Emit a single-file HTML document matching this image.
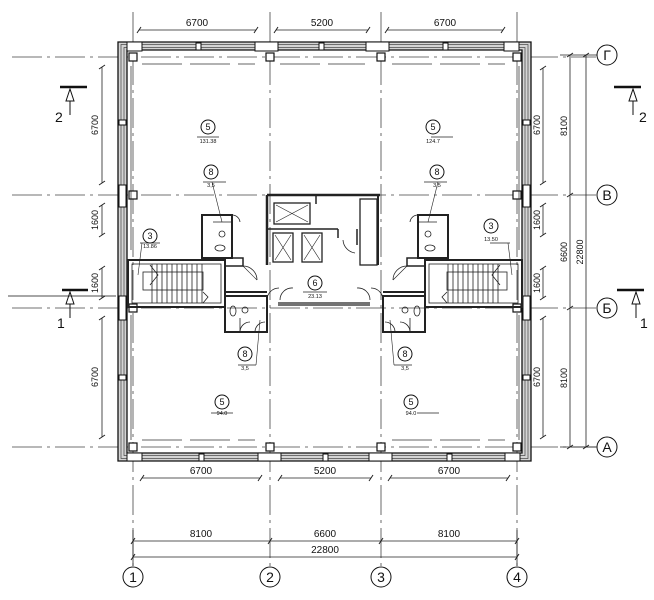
<!DOCTYPE html>
<html><head><meta charset="utf-8"><style>
html,body{margin:0;padding:0;background:#fff;}
svg{display:block;font-family:"Liberation Sans",Arial,sans-serif;}
</style></head><body>
<svg width="654" height="600" viewBox="0 0 654 600" xmlns="http://www.w3.org/2000/svg">
<defs>
<g id="half" fill="none" stroke="#222">
  <rect x="128" y="260" width="97" height="47" stroke-width="2"/>
  <rect x="132" y="264" width="89" height="39" stroke-width="0.8"/>
  <rect x="143" y="272" width="60" height="18" stroke-width="0.8"/>
  <g stroke-width="0.8">
    <line x1="152" y1="264" x2="152" y2="303"/><line x1="157" y1="264" x2="157" y2="303"/>
    <line x1="162" y1="264" x2="162" y2="303"/><line x1="167" y1="264" x2="167" y2="303"/>
    <line x1="172" y1="264" x2="172" y2="303"/><line x1="177" y1="264" x2="177" y2="303"/>
    <line x1="182" y1="264" x2="182" y2="303"/><line x1="187" y1="264" x2="187" y2="303"/>
    <line x1="192" y1="264" x2="192" y2="303"/><line x1="197" y1="264" x2="197" y2="303"/>
    <line x1="202" y1="264" x2="202" y2="303"/>
    <path d="M150 265 L158 275 L150 285"/>
    <path d="M203 292 L208 297 L203 303"/>
  </g>
  <rect x="202" y="215" width="30" height="43" stroke-width="2"/>
  <line x1="213" y1="222" x2="232" y2="222" stroke-width="0.8"/>
  <circle cx="222" cy="234" r="3" stroke-width="0.8"/>
  <ellipse cx="220" cy="248" rx="5" ry="3" stroke-width="0.8"/>
  <path d="M232 215 A8 8 0 0 1 240 222" stroke-width="0.8"/>
  <rect x="225" y="258" width="18" height="8" stroke-width="1.5"/>
  <line x1="225" y1="292" x2="267" y2="292" stroke-width="2"/>
  <path d="M243 266 A14 14 0 0 1 257 280" stroke-width="0.8"/>
  <line x1="243" y1="266" x2="257" y2="280" stroke-width="0.6"/>
  <rect x="225" y="296" width="42" height="36" stroke-width="2"/>
  <ellipse cx="233" cy="311" rx="3" ry="5" stroke-width="0.8"/>
  <circle cx="245" cy="310" r="3" stroke-width="0.8"/>
  <line x1="240" y1="318" x2="240" y2="332" stroke-width="0.8"/>
  <path d="M255 332 A10 10 0 0 1 265 322" stroke-width="0.8"/>
  <path d="M240 332 A10 10 0 0 1 250 322" stroke-width="0.8"/>
  <path d="M267 300 A12 12 0 0 1 279 288" stroke-width="0.8"/>
  <line x1="131" y1="66" x2="131" y2="250" stroke-width="0.7"/>
  <line x1="131" y1="315" x2="131" y2="440" stroke-width="0.7"/>
  <line x1="203" y1="182" x2="226" y2="182" stroke-width="0.8"/>
  <line x1="212" y1="182" x2="222" y2="222" stroke-width="0.6"/>
  <line x1="140" y1="243" x2="160" y2="243" stroke-width="0.8"/>
  <line x1="142" y1="243" x2="138" y2="275" stroke-width="0.6"/>
  <line x1="238" y1="365" x2="256" y2="365" stroke-width="0.8"/>
  <line x1="256" y1="365" x2="260" y2="320" stroke-width="0.6"/>
  <line x1="197" y1="137" x2="219" y2="137" stroke-width="0.8"/>
  <line x1="211" y1="413" x2="233" y2="413" stroke-width="0.8"/>
</g>
</defs>

<g stroke="#444" stroke-width="0.8" stroke-dasharray="30,5,3,5" fill="none">
  <line x1="12" y1="57" x2="596" y2="57"/>
  <line x1="12" y1="195" x2="596" y2="195"/>
  <line x1="12" y1="308" x2="596" y2="308"/>
  <line x1="12" y1="447" x2="596" y2="447"/>
  <line x1="133" y1="12" x2="133" y2="566"/>
  <line x1="270" y1="12" x2="270" y2="566"/>
  <line x1="381" y1="12" x2="381" y2="566"/>
  <line x1="517" y1="12" x2="517" y2="566"/>
</g>

<path d="M118 42 H531 V461 H118 Z M127 50 V453 H522 V50 Z" fill="#d4d4d4" fill-rule="evenodd" stroke="#111" stroke-width="1.3"/>
<rect x="121" y="44.5" width="407" height="414" fill="none" stroke="#444" stroke-width="0.7"/>
<rect x="124" y="47.5" width="401" height="408" fill="none" stroke="#444" stroke-width="0.7"/>
<g fill="#fff" stroke="#111" stroke-width="1">
  <rect x="127" y="42" width="15" height="9"/><rect x="255" y="42" width="23" height="9"/>
  <rect x="366" y="42" width="23" height="9"/><rect x="504" y="42" width="15" height="9"/>
  <rect x="196" y="43" width="5" height="7"/><rect x="319" y="43" width="5" height="7"/><rect x="443" y="43" width="5" height="7"/>
  <rect x="127" y="453" width="15" height="8"/><rect x="258" y="453" width="23" height="8"/>
  <rect x="369" y="453" width="23" height="8"/><rect x="505" y="453" width="15" height="8"/>
  <rect x="199" y="454" width="5" height="7"/><rect x="323" y="454" width="5" height="7"/><rect x="447" y="454" width="5" height="7"/>
  <rect x="119" y="120" width="7" height="5"/><rect x="523" y="120" width="7" height="5"/>
  <rect x="119" y="375" width="7" height="5"/><rect x="523" y="375" width="7" height="5"/>
  <rect x="119" y="185" width="7" height="22"/><rect x="523" y="185" width="7" height="22"/>
  <rect x="119" y="296" width="7" height="24"/><rect x="523" y="296" width="7" height="24"/>
</g>
<g stroke="#333" stroke-width="0.7" fill="none">
  <line x1="142" y1="64" x2="255" y2="64" stroke-dasharray="40,8"/>
  <line x1="280" y1="64" x2="365" y2="64" stroke-dasharray="40,8"/>
  <line x1="392" y1="64" x2="505" y2="64" stroke-dasharray="40,8"/>
  <line x1="142" y1="440" x2="255" y2="440" stroke-dasharray="40,8"/>
  <line x1="392" y1="440" x2="505" y2="440" stroke-dasharray="40,8"/>
</g>

<g fill="#fff" stroke="#111" stroke-width="1.2">
  <rect x="129" y="53" width="8" height="8"/><rect x="266" y="53" width="8" height="8"/>
  <rect x="377" y="53" width="8" height="8"/><rect x="513" y="53" width="8" height="8"/>
  <rect x="129" y="191" width="8" height="8"/><rect x="513" y="191" width="8" height="8"/>
  <rect x="129" y="304" width="8" height="8"/><rect x="513" y="304" width="8" height="8"/>
  <rect x="129" y="443" width="8" height="8"/><rect x="266" y="443" width="8" height="8"/>
  <rect x="377" y="443" width="8" height="8"/><rect x="513" y="443" width="8" height="8"/>
</g>

<use href="#half"/>
<use href="#half" transform="translate(650,0) scale(-1,1)"/>

<g fill="none" stroke="#222">
  <line x1="267" y1="195" x2="267" y2="265" stroke-width="2.5"/>
  <line x1="267" y1="195" x2="380" y2="195" stroke-width="2.5"/>
  <line x1="378" y1="195" x2="378" y2="265" stroke-width="2"/>
  <rect x="360" y="199" width="17" height="66" stroke-width="1.3"/>
  <rect x="274" y="203" width="36" height="21" stroke-width="1.3"/>
  <path d="M276 205 L308 222 M308 205 L276 222" stroke-width="0.6"/>
  <line x1="267" y1="229" x2="338" y2="229" stroke-width="1.5"/>
  <line x1="316" y1="195" x2="316" y2="204" stroke-width="1.5"/>
  <rect x="273" y="233" width="20" height="29" stroke-width="1.3"/>
  <rect x="302" y="233" width="20" height="29" stroke-width="1.3"/>
  <path d="M275 235 L291 260 M291 235 L275 260 M304 235 L320 260 M320 235 L304 260" stroke-width="0.6"/>
  <line x1="338" y1="229" x2="338" y2="238" stroke-width="1.5"/>
  <path d="M343 240 A14 14 0 0 0 355 253" stroke-width="0.8"/>
  <line x1="357" y1="229" x2="357" y2="245" stroke-width="1.5"/>
  <line x1="278" y1="303" x2="370" y2="303" stroke-width="1.2"/>
  <line x1="278" y1="305" x2="370" y2="305" stroke-width="1.2"/>
  <path d="M280 300 A12 12 0 0 1 293 288" stroke-width="0.8"/>
  <path d="M370 300 A12 12 0 0 0 357 288" stroke-width="0.8"/>
  <line x1="303" y1="292" x2="327" y2="292" stroke-width="0.8"/>
</g>

<g fill="#fff" stroke="#111" stroke-width="1">
  <circle cx="208" cy="127" r="7"/><circle cx="433" cy="127" r="7"/>
  <circle cx="211" cy="172" r="7"/><circle cx="437" cy="172" r="7"/>
  <circle cx="150" cy="236" r="7"/><circle cx="491" cy="226" r="7"/>
  <circle cx="315" cy="283" r="7"/>
  <circle cx="245" cy="354" r="7"/><circle cx="405" cy="354" r="7"/>
  <circle cx="222" cy="402" r="7"/><circle cx="411" cy="402" r="7"/>
</g>
<g font-size="9" text-anchor="middle" fill="#111">
  <text x="208" y="130">5</text><text x="433" y="130">5</text>
  <text x="211" y="175">8</text><text x="437" y="175">8</text>
  <text x="150" y="239">3</text><text x="491" y="229">3</text>
  <text x="315" y="286">6</text>
  <text x="245" y="357">8</text><text x="405" y="357">8</text>
  <text x="222" y="405">5</text><text x="411" y="405">5</text>
</g>
<g font-size="5.5" text-anchor="middle" fill="#111">
  <text x="208" y="143">131.38</text><text x="433" y="143">124.7</text>
  <text x="211" y="187">3,5</text><text x="437" y="187">3,5</text>
  <text x="150" y="248">13.86</text><text x="491" y="241">13.50</text>
  <text x="315" y="298">23.13</text>
  <text x="245" y="370">3,5</text><text x="405" y="370">3,5</text>
  <text x="222" y="415">94.0</text><text x="411" y="415">94.0</text>
</g>

<g stroke="#222" stroke-width="0.8" fill="none">
  <line x1="139" y1="30" x2="256" y2="30"/><line x1="276" y1="30" x2="368" y2="30"/><line x1="387" y1="30" x2="503" y2="30"/>
  <line x1="142" y1="478" x2="260" y2="478"/><line x1="280" y1="478" x2="371" y2="478"/><line x1="390" y1="478" x2="508" y2="478"/>
  <line x1="133" y1="541" x2="517" y2="541"/><line x1="133" y1="557" x2="517" y2="557"/>
  <line x1="102" y1="67" x2="102" y2="183"/><line x1="102" y1="205" x2="102" y2="235"/>
  <line x1="102" y1="268" x2="102" y2="298"/><line x1="102" y1="318" x2="102" y2="437"/>
  <line x1="543" y1="68" x2="543" y2="183"/><line x1="543" y1="205" x2="543" y2="235"/>
  <line x1="543" y1="268" x2="543" y2="298"/><line x1="543" y1="318" x2="543" y2="437"/>
  <line x1="570" y1="55" x2="570" y2="447"/><line x1="586" y1="55" x2="586" y2="447"/>
  <line x1="560" y1="55" x2="597" y2="55"/><line x1="560" y1="447" x2="597" y2="447"/>
  <line x1="133" y1="530" x2="133" y2="566"/><line x1="517" y1="530" x2="517" y2="566"/>
</g>
<g stroke="#222" stroke-width="1">
  <path d="M137 33 l4 -6 M254 33 l4 -6 M274 33 l4 -6 M366 33 l4 -6 M385 33 l4 -6 M501 33 l4 -6"/>
  <path d="M140 481 l4 -6 M258 481 l4 -6 M278 481 l4 -6 M369 481 l4 -6 M388 481 l4 -6 M506 481 l4 -6"/>
  <path d="M131 544 l4 -6 M268 544 l4 -6 M379 544 l4 -6 M515 544 l4 -6 M131 560 l4 -6 M515 560 l4 -6"/>
  <path d="M99 69 l6 -4 M99 185 l6 -4 M99 207 l6 -4 M99 237 l6 -4 M99 270 l6 -4 M99 300 l6 -4 M99 320 l6 -4 M99 439 l6 -4"/>
  <path d="M540 70 l6 -4 M540 185 l6 -4 M540 207 l6 -4 M540 237 l6 -4 M540 270 l6 -4 M540 300 l6 -4 M540 320 l6 -4 M540 439 l6 -4"/>
  <path d="M567 57 l6 -4 M567 197 l6 -4 M567 310 l6 -4 M567 449 l6 -4 M583 57 l6 -4 M583 449 l6 -4"/>
</g>
<g font-size="10" text-anchor="middle" fill="#111">
  <text x="197" y="26">6700</text><text x="322" y="26">5200</text><text x="445" y="26">6700</text>
  <text x="201" y="474">6700</text><text x="325" y="474">5200</text><text x="449" y="474">6700</text>
  <text x="201" y="537">8100</text><text x="325" y="537">6600</text><text x="449" y="537">8100</text>
  <text x="325" y="553">22800</text>
</g>
<g font-size="9" text-anchor="middle" fill="#111">
  <text transform="translate(98,125) rotate(-90)">6700</text>
  <text transform="translate(98,220) rotate(-90)">1600</text>
  <text transform="translate(98,283) rotate(-90)">1600</text>
  <text transform="translate(98,377) rotate(-90)">6700</text>
  <text transform="translate(540,125) rotate(-90)">6700</text>
  <text transform="translate(540,220) rotate(-90)">1600</text>
  <text transform="translate(540,283) rotate(-90)">1600</text>
  <text transform="translate(540,377) rotate(-90)">6700</text>
  <text transform="translate(567,126) rotate(-90)">8100</text>
  <text transform="translate(567,252) rotate(-90)">6600</text>
  <text transform="translate(567,378) rotate(-90)">8100</text>
  <text transform="translate(583,252) rotate(-90)">22800</text>
</g>

<g fill="#fff" stroke="#111" stroke-width="1">
  <circle cx="133" cy="577" r="10"/><circle cx="270" cy="577" r="10"/>
  <circle cx="381" cy="577" r="10"/><circle cx="517" cy="577" r="10"/>
  <circle cx="607" cy="55" r="10"/><circle cx="607" cy="195" r="10"/>
  <circle cx="607" cy="308" r="10"/><circle cx="607" cy="447" r="10"/>
</g>
<g font-size="14" text-anchor="middle" fill="#111" font-family="Liberation Sans, DejaVu Sans, sans-serif">
  <text x="133" y="582">1</text><text x="270" y="582">2</text>
  <text x="381" y="582">3</text><text x="517" y="582">4</text>
  <text x="607" y="60">Г</text><text x="607" y="200">В</text>
  <text x="607" y="313">Б</text><text x="607" y="452">А</text>
</g>

<g stroke="#111" fill="none">
  <line x1="60" y1="87" x2="87" y2="87" stroke-width="2.5"/>
  <path d="M70 89 L66 101 L74 101 Z" stroke-width="1"/><line x1="70" y1="101" x2="70" y2="115" stroke-width="1"/>
  <line x1="614" y1="87" x2="641" y2="87" stroke-width="2.5"/>
  <path d="M633 89 L629 101 L637 101 Z" stroke-width="1"/><line x1="633" y1="101" x2="633" y2="115" stroke-width="1"/>
  <line x1="62" y1="290" x2="88" y2="290" stroke-width="2.5"/>
  <line x1="8" y1="296" x2="116" y2="296" stroke-width="0.8"/>
  <path d="M70 292 L66 304 L74 304 Z" stroke-width="1"/><line x1="70" y1="304" x2="70" y2="318" stroke-width="1"/>
  <line x1="617" y1="290" x2="644" y2="290" stroke-width="2.5"/>
  <path d="M636 292 L632 304 L640 304 Z" stroke-width="1"/><line x1="636" y1="304" x2="636" y2="318" stroke-width="1"/>
</g>
<g font-size="14" fill="#111">
  <text x="55" y="122">2</text><text x="639" y="122">2</text>
  <text x="57" y="328">1</text><text x="640" y="328">1</text>
</g>
</svg>
</body></html>
